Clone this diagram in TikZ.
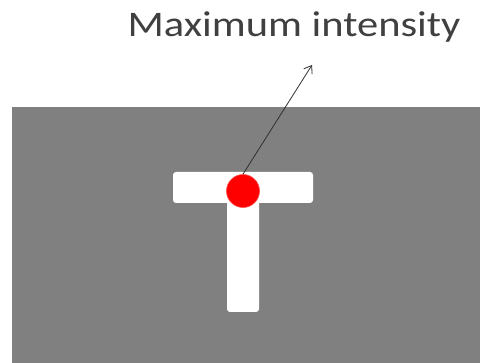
\documentclass[tikz,border=0pt]{standalone}
\usepackage{fontspec}
\setmainfont{Carlito}
\usepackage{tikz}
\usetikzlibrary{arrows.meta}

\begin{document}
\begin{tikzpicture}[x=1pt,y=1pt]

% Colori
\definecolor{colSfondo}{HTML}{808080}
\definecolor{colPunto}{HTML}{FF0000}
\definecolor{colFreccia}{HTML}{303030}

\useasboundingbox (0,0) rectangle (480,363);

% Sfondo grigio
\fill[colSfondo] (12,0) rectangle (480,256);

% Lettera T
\fill[white, rounded corners=3pt] (173,160) rectangle (313,191);
\fill[white, rounded corners=3pt] (227,51) rectangle (259,175);

% Punto di massima intensita'
\node[circle, fill=colPunto, draw=colPunto!70!white, line width=0.6pt, minimum size=33pt, inner sep=0pt] (punto) at (243,172) {};

% Etichetta
\node[font=\fontsize{36}{40}\selectfont, anchor=base, text=black!75, xscale=1.18, transform shape] (etich) at (294,326) {Maximum intensity};
\coordinate (punta) at (312,298);

% Freccia
\draw[-{Straight Barb[length=7pt,width=10pt]}, colFreccia, line width=0.8pt] (punto.north) -- (punta);

\end{tikzpicture}
\end{document}
